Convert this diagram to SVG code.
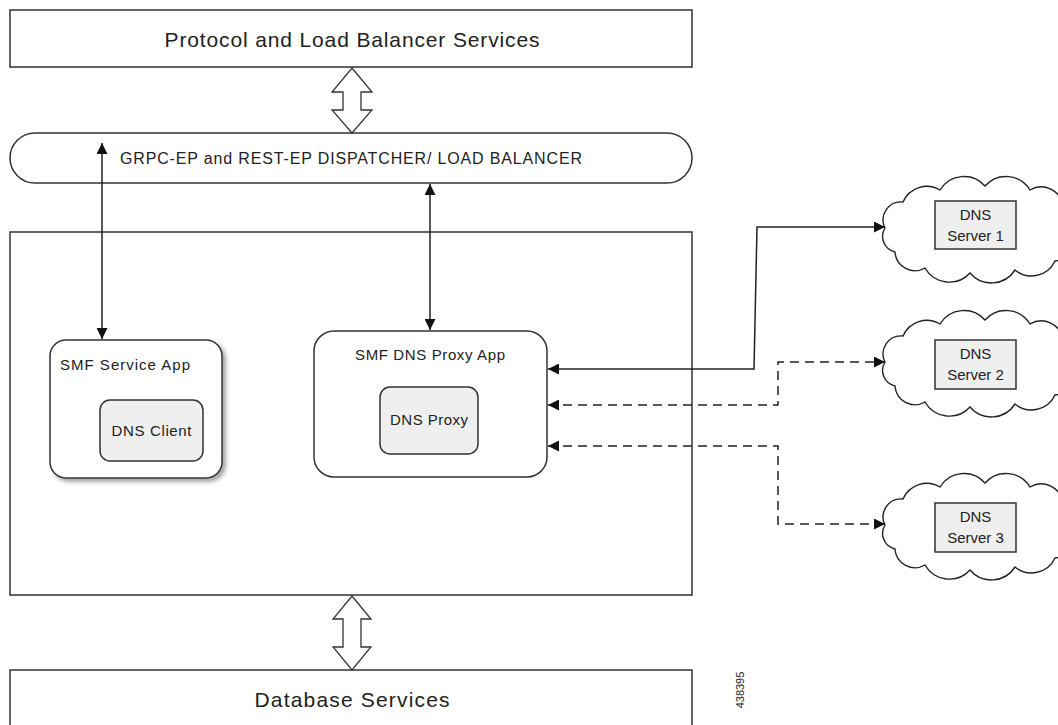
<svg xmlns="http://www.w3.org/2000/svg" width="1058" height="725" viewBox="0 0 1058 725">
<defs>
<style>
.box{fill:#fff;stroke:#333;stroke-width:1.5}
.inner{fill:#efefef;stroke:#333;stroke-width:1.5}
.hollow{fill:#fff;stroke:#333;stroke-width:1.3}
.t{font-family:"Liberation Sans",Arial,sans-serif;fill:#222}
.big{font-size:21px}
.mid{font-size:16px}
.sm{font-size:15px}
.ln{fill:none;stroke:#222;stroke-width:1.5}
.dash{stroke-dasharray:9,6}
.cloud{fill:#fff;stroke:#222;stroke-width:1.4}
</style>
<marker id="ah" viewBox="0 0 10 10" refX="10" refY="5" markerWidth="13" markerHeight="11" markerUnits="userSpaceOnUse" orient="auto-start-reverse">
<path d="M0,0 L10,5 L0,10 z" fill="#111"/>
</marker>
<filter id="sh" x="-10%" y="-10%" width="130%" height="130%">
<feDropShadow dx="3" dy="3" stdDeviation="2" flood-color="#777" flood-opacity="0.7"/>
</filter>
<path id="cloud" d="M-90,0 A18,18 0 0 1 -72,-26 A26,26 0 0 1 -35,-38 A28,28 0 0 1 10,-42 A28,28 0 0 1 55,-38 A22,22 0 0 1 88,-22 A18,18 0 0 1 97,8 A20,20 0 0 1 80,33 A26,26 0 0 1 40,42 A28,28 0 0 1 -5,45 A28,28 0 0 1 -50,40 A20,20 0 0 1 -80,24 A16,16 0 0 1 -90,0 Z"/>
</defs>
<rect width="1058" height="725" fill="#fff"/>

<g id="protocol">
<rect class="box" x="10" y="10" width="682" height="57"/>
<text class="t big" x="352" y="47" text-anchor="middle" textLength="375">Protocol and Load Balancer Services</text>
</g>

<g id="dispatcher">
<rect class="box" x="10" y="133" width="682" height="50" rx="25" ry="25"/>
<text class="t mid" x="120" y="164" textLength="462">GRPC-EP and REST-EP DISPATCHER/ LOAD BALANCER</text>
</g>

<g id="main">
<rect class="box" x="10" y="232" width="682" height="363"/>
</g>

<g id="smf-service">
<rect class="box" x="50" y="340" width="172" height="138" rx="16" ry="16" filter="url(#sh)"/>
<text class="t sm" x="60" y="370" textLength="130">SMF Service App</text>
</g>
<g id="dns-client">
<rect class="inner" x="100" y="400" width="103" height="61" rx="10" ry="10"/>
<text class="t sm" x="151.5" y="436" text-anchor="middle" textLength="80">DNS Client</text>
</g>

<g id="smf-dns-proxy">
<rect class="box" x="314" y="331" width="233" height="146" rx="20" ry="20"/>
<text class="t sm" x="430" y="360" text-anchor="middle" textLength="150">SMF DNS Proxy App</text>
</g>
<g id="dns-proxy">
<rect class="inner" x="380" y="387" width="98" height="67" rx="10" ry="10"/>
<text class="t sm" x="429" y="425" text-anchor="middle" textLength="78">DNS Proxy</text>
</g>

<g id="database">
<rect class="box" x="10" y="670" width="682" height="70"/>
<text class="t big" x="352" y="707" text-anchor="middle" textLength="195">Database Services</text>
</g>

<g id="dns-server-1">
<use href="#cloud" class="cloud" transform="translate(975,228)"/>
<rect class="inner" x="935" y="201" width="81" height="48"/>
<text class="t sm" x="975.5" y="220" text-anchor="middle">DNS</text>
<text class="t sm" x="975.5" y="241" text-anchor="middle">Server 1</text>
</g>
<g id="dns-server-2">
<use href="#cloud" class="cloud" transform="translate(975,362)"/>
<rect class="inner" x="935" y="340" width="81" height="49"/>
<text class="t sm" x="975.5" y="359" text-anchor="middle">DNS</text>
<text class="t sm" x="975.5" y="380" text-anchor="middle">Server 2</text>
</g>
<g id="dns-server-3">
<use href="#cloud" class="cloud" transform="translate(975,525)"/>
<rect class="inner" x="935" y="503" width="81" height="49"/>
<text class="t sm" x="975.5" y="522" text-anchor="middle">DNS</text>
<text class="t sm" x="975.5" y="543" text-anchor="middle">Server 3</text>
</g>

<g id="connectors">
<polygon class="hollow" points="352,68 372,92 361,92 361,110 372,110 352,133 332,110 343,110 343,92 332,92"/>
<polygon class="hollow" points="352,596 371,619 361,619 361,647 371,647 352,670 333,647 343,647 343,619 333,619"/>
<line class="ln" x1="102" y1="143" x2="102" y2="339" marker-start="url(#ah)" marker-end="url(#ah)"/>
<line class="ln" x1="430" y1="184" x2="430" y2="330" marker-start="url(#ah)" marker-end="url(#ah)"/>
<polyline class="ln" points="548,369 754,369 757,227 885,227" marker-start="url(#ah)" marker-end="url(#ah)"/>
<polyline class="ln dash" points="548,405 778,405 778,362 885,362" marker-start="url(#ah)" marker-end="url(#ah)"/>
<polyline class="ln dash" points="548,446 778,446 778,524 885,524" marker-start="url(#ah)" marker-end="url(#ah)"/>
</g>

<text class="t" x="0" y="0" font-size="11" text-anchor="middle" transform="translate(744,690) rotate(-90)">438395</text>
</svg>
